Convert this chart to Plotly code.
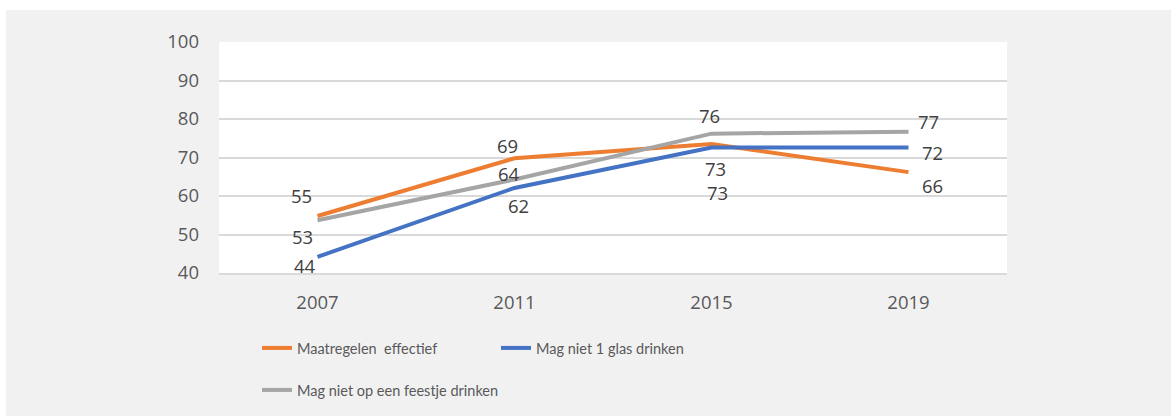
import plotly.graph_objects as go

# ---- data ----
years = ["2007", "2011", "2015", "2019"]
series_names = ["Maatregelen\u00a0 effectief", "Mag niet 1 glas drinken", "Mag niet op een feestje drinken"]
maatregelen = [54.8, 69.8, 73.5, 66.2]
glas = [44.2, 62.1, 72.6, 72.6]
feestje = [53.7, 64.3, 76.2, 76.7]
maatregelen_labels = ["55", "69", "73", "66"]
glas_labels = ["44", "62", "73", "72"]
feestje_labels = ["53", "64", "76", "77"]
y_ticks = [40, 50, 60, 70, 80, 90, 100]

# ---- style ----
W, H = 1171, 416
ML, MR, MT, MB = 219, 164, 42, 143
PW, PH = W - ML - MR, H - MT - MB
colors = ["#ed7d31", "#4472c4", "#a5a5a5"]
bg = "#f1f1f2"
grid = "#d9d9d9"
num_font = dict(family="Open Sans", size=18.5, color="#595959")
lbl_font = dict(family="Open Sans", size=18.5, color="#404040")
leg_font = dict(family="Lato", size=14.5, color="#595959")

# label offsets (pixels) per series, per point
offsets = [
    [(-16, 21), (-7, 13), (4, -24), (24, -13)],
    [(-13, -9), (4, -18), (6, -45), (24, -5)],
    [(-15, -16), (-6, 6), (-2, 18), (20, 10)],
]

fig = go.Figure()
all_vals = [maatregelen, glas, feestje]
all_labels = [maatregelen_labels, glas_labels, feestje_labels]
legend_ids = ["legend", "legend", "legend2"]
for name, vals, col, lg in zip(series_names, all_vals, colors, legend_ids):
    fig.add_trace(go.Scatter(
        x=years, y=vals, name=name, mode="lines",
        line=dict(color=col, width=4), legend=lg, hoverinfo="skip",
    ))

for vals, labs, offs in zip(all_vals, all_labels, offsets):
    for i, (v, t, (dx, dy)) in enumerate(zip(vals, labs, offs)):
        fig.add_annotation(
            x=i, y=v, xref="x", yref="y", text=t, showarrow=False,
            xanchor="center", yanchor="middle", xshift=dx, yshift=dy,
            font=lbl_font,
        )

def px_x(p):
    return (p - ML) / PW

def px_y(p):
    return (H - MB - p) / PH

shapes = [
    dict(type="rect", xref="paper", yref="paper", x0=px_x(0), x1=px_x(W), y0=px_y(10), y1=px_y(0),
         fillcolor="white", line_width=0, layer="below"),
    dict(type="rect", xref="paper", yref="paper", x0=px_x(0), x1=px_x(6), y0=px_y(H), y1=px_y(0),
         fillcolor="white", line_width=0, layer="below"),
]

fig.update_layout(
    width=W, height=H,
    margin=dict(l=ML, r=MR, t=MT, b=MB, pad=0, autoexpand=False),
    paper_bgcolor=bg, plot_bgcolor="white",
    font=num_font,
    shapes=shapes,
    showlegend=True,
    legend=dict(orientation="h", x=px_x(257), y=px_y(348), xanchor="left", yanchor="middle",
                font=leg_font, bgcolor="rgba(0,0,0,0)", entrywidth=194, entrywidthmode="pixels",
                itemwidth=30, traceorder="normal"),
    legend2=dict(orientation="h", x=px_x(257), y=px_y(390), xanchor="left", yanchor="middle",
                 font=leg_font, bgcolor="rgba(0,0,0,0)", itemwidth=30),
    xaxis=dict(type="category", range=[-0.5, 3.5], showgrid=False, showline=True,
               linecolor=grid, linewidth=2, ticks="", tickfont=num_font, ticklabelstandoff=12,
               fixedrange=True),
    yaxis=dict(range=[40, 100], tickvals=y_ticks, showgrid=True, gridcolor=grid, gridwidth=2,
               zeroline=False, showline=False, ticks="", tickfont=num_font, ticklabelstandoff=19,
               fixedrange=True),
)

fig.write_html("out.html", config={"displayModeBar": False},
               post_script="document.body.style.margin='0';document.body.style.overflow='hidden';")
